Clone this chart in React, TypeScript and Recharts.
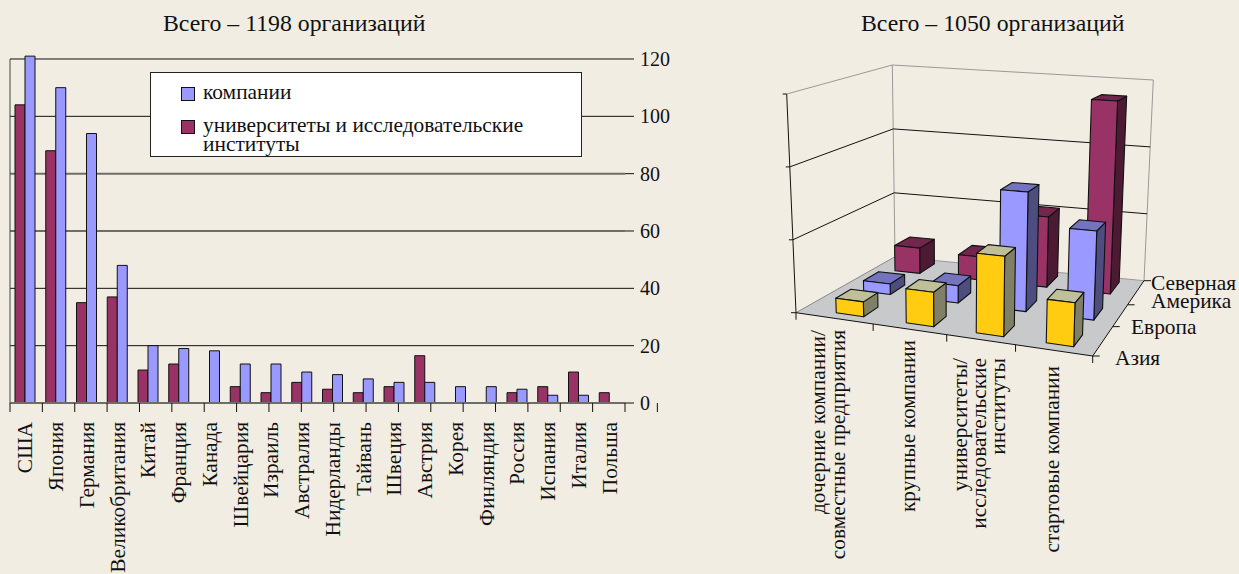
import React from "react";
import {
  Bar,
  BarChart,
  CartesianGrid,
  Legend,
  ReferenceLine,
  XAxis,
  YAxis,
} from "recharts";

// left chart
const countries = [
  "США", "Япония", "Германия", "Великобритания", "Китай", "Франция", "Канада",
  "Швейцария", "Израиль", "Австралия", "Нидерланды", "Тайвань", "Швеция", "Австрия",
  "Корея", "Финляндия", "Россия", "Испания", "Италия", "Польша",
];
const universities = [104, 88, 35, 37, 11.5, 13.6, null, 5.7, 3.6, 7.2, 4.8, 3.6, 5.7, 16.5, null, null, 3.6, 5.7, 10.8, 3.6];
const companies = [121, 110, 94, 48, 20, 19, 18.2, 13.6, 13.6, 10.8, 9.9, 8.4, 7.2, 7.2, 5.7, 5.7, 4.8, 2.7, 2.7, null];
const leftTicks = [0, 20, 40, 60, 80, 100, 120];
const bandEdges = [0, 1, 2, 3, 4, 5, 6, 7, 8, 9, 10, 11, 12, 13, 14, 15, 16, 17, 18, 19, 20];

// right chart
const orgTypes = ["дочерние компании/совместные предприятия", "крупные компании", "университеты/исследовательские институты", "стартовые компании"];
const asia = [20, 45, 102, 54];
const europe = [15, 24, 162, 118];
const northAmerica = [38, 34, 102, 276];

const leftData = countries.map((name, i) => ({ name, universities: universities[i], companies: companies[i] }));
const rightData = orgTypes.map((name, i) => ({ name, asia: asia[i], europe: europe[i], northAmerica: northAmerica[i] }));

const BG = "#f1ede3";
const RED = "#993366";
const BLUE = "#9999ff";
const SERIF = "'Liberation Serif', serif";
const FONT = 21.4;

const CountryTick = (props: any) => {
  const { x, payload } = props;
  const top = 422;
  return (
    <text
      x={x}
      y={top}
      transform={`rotate(-90 ${x} ${top})`}
      textAnchor="end"
      dominantBaseline="central"
      fontFamily={SERIF}
      fontSize={FONT}
      fill="#111"
    >
      {payload.value}
    </text>
  );
};

const LegendBox = () => (
  <div style={{ position: "relative", width: 432, height: 85, background: "#fff", border: "1px solid #222", boxSizing: "border-box", fontFamily: SERIF, fontSize: FONT, color: "#111" }}>
    <div style={{ position: "absolute", left: 30, top: 14, width: 12, height: 12, background: BLUE, border: "1px solid #111" }} />
    <div style={{ position: "absolute", left: 52, top: 7 }}>компании</div>
    <div style={{ position: "absolute", left: 30, top: 47, width: 12, height: 12, background: RED, border: "1px solid #111" }} />
    <div style={{ position: "absolute", left: 52, top: 43, lineHeight: "19px", whiteSpace: "nowrap" }}>
      университеты и исследовательские
      <br />
      институты
    </div>
  </div>
);

// 3D box of the right chart, px inside its 469x524 svg
type Pt = [number, number];
const W3 = 469;
const H3 = 524;

const quadMap = (p0: Pt, p1: Pt, p2: Pt, p3: Pt) => (u: number, v: number): Pt => {
  const at = (k: 0 | 1) =>
    p0[k] * (1 - u) * (1 - v) + p1[k] * u * (1 - v) + p2[k] * u * v + p3[k] * (1 - u) * v;
  return [at(0), at(1)];
};

const floorMap = quadMap([26, 262.7], [322.7, 306], [374, 230.7], [125, 206.7]);
const ceilMap = quadMap([16.7, 44], [331, 56], [383.3, 30], [122.3, 15]);

const project = (u: number, d: number, h: number): Pt => {
  const a = floorMap(u, d);
  const b = ceilMap(u, d);
  return [a[0] + (b[0] - a[0]) * h, a[1] + (b[1] - a[1]) * h];
};

const pts = (list: Pt[]) => list.map((p) => `${p[0]},${p[1]}`).join(" ");

const Seg = ({ a, b, stroke = "#111", w = 1 }: { a: Pt; b: Pt; stroke?: string; w?: number }) => (
  <line x1={a[0]} y1={a[1]} x2={b[0]} y2={b[1]} stroke={stroke} strokeWidth={w} />
);

// where each row sits on the floor: front edge, and how the band maps across it
const rowFront = [0.08, 0.44, 0.79];
const rowDepth = 0.16;
const rowShift = [0.037, 0.012, 0.005];
const rowSpread = [0.956, 0.984, 0.98];

const Prism = (props: any) => {
  const { x, width, height, row, front, top, side } = props;
  if (!height) return null;
  const uL = rowShift[row] + (rowSpread[row] * x) / W3;
  const uR = rowShift[row] + (rowSpread[row] * (x + width)) / W3;
  const h = height / H3;
  const dF = rowFront[row];
  const dB = dF + rowDepth;
  return (
    <g stroke="#111" strokeWidth={1.1} strokeLinejoin="round">
      <polygon points={pts([project(uR, dF, 0), project(uR, dB, 0), project(uR, dB, h), project(uR, dF, h)])} fill={side} />
      <polygon points={pts([project(uL, dF, h), project(uR, dF, h), project(uR, dB, h), project(uL, dB, h)])} fill={top} />
      <polygon points={pts([project(uL, dF, 0), project(uR, dF, 0), project(uR, dF, h), project(uL, dF, h)])} fill={front} />
    </g>
  );
};

const GRAY = "#999";
const levels = [1 / 3, 2 / 3];
const uTicks = [0, 0.26, 0.508, 0.74, 1];
const dTicks = [0, 0.39, 0.68, 1];

const Box3D = () => (
  <g>
    <polygon points={pts([project(0, 0, 0), project(1, 0, 0), project(1, 1, 0), project(0, 1, 0)])} fill="#c8c9cb" />
    <Seg a={project(0, 0, 1)} b={project(0, 1, 1)} stroke={GRAY} />
    <Seg a={project(0, 1, 1)} b={project(1, 1, 1)} stroke={GRAY} />
    <Seg a={project(0, 1, 1)} b={project(0, 1, 0)} stroke={GRAY} />
    <Seg a={project(1, 1, 1)} b={project(1, 1, 0)} stroke={GRAY} />
    <Seg a={project(0, 0, 0)} b={project(0, 1, 0)} stroke="#888" />
    <Seg a={project(0, 1, 0)} b={project(1, 1, 0)} stroke={GRAY} />
    {levels.map((l) => (
      <g key={l}>
        <Seg a={project(0, 0, l)} b={project(0, 1, l)} />
        <Seg a={project(0, 1, l)} b={project(1, 1, l)} />
        <Seg a={project(0, 0, l)} b={[project(0, 0, l)[0] - 4, project(0, 0, l)[1]]} />
      </g>
    ))}
    <Seg a={project(0, 0, 1)} b={[project(0, 0, 1)[0] - 4, project(0, 0, 1)[1]]} />
    <Seg a={project(0, 0, 0)} b={project(0, 0, 1)} />
    <Seg a={project(0, 0, 0)} b={project(1, 0, 0)} />
    <Seg a={project(1, 0, 0)} b={project(1, 1, 0)} />
    {uTicks.map((u) => (
      <Seg key={u} a={project(u, 0, 0)} b={[project(u, 0, 0)[0], project(u, 0, 0)[1] + 7]} />
    ))}
    {dTicks.map((d) => (
      <Seg key={d} a={project(1, d, 0)} b={[project(1, d, 0)[0] + 7, project(1, d, 0)[1]]} />
    ))}
    <Seg a={project(0, 0, 0)} b={[project(0, 0, 0)[0] - 5, project(0, 0, 0)[1]]} />
  </g>
);

// rotated axis text: [centre x, top y, text]
const typeLabels: [number, number, string][] = [
  [48, 280, "дочерние компании/"],
  [68, 280, "совместные предприятия"],
  [138, 290, "крупные компании"],
  [190, 308, "университеты/"],
  [209, 308, "исследовательские"],
  [228, 308, "институты"],
  [282, 316, "стартовые компании"],
];
const regionLabels: [number, number, string][] = [
  [345, 308, "Азия"],
  [361, 277, "Европа"],
  [381, 251, "Америка"],
  [381, 233, "Северная"],
];

const AxisText3D = () => (
  <g fontFamily={SERIF} fontSize={FONT} fill="#111">
    {typeLabels.map(([x, y, t]) => (
      <text key={t} x={x} y={y} transform={`rotate(-90 ${x} ${y})`} textAnchor="end" dominantBaseline="central">
        {t}
      </text>
    ))}
    {regionLabels.map(([x, y, t]) => (
      <text key={t} x={x} y={y} dominantBaseline="central">
        {t}
      </text>
    ))}
  </g>
);

const Title = ({ left, text }: { left: number; text: string }) => (
  <div style={{ position: "absolute", left, top: 10, fontFamily: SERIF, fontSize: 23.8, color: "#111", whiteSpace: "nowrap" }}>{text}</div>
);

export default function App() {
  return (
    <div style={{ position: "fixed", left: 0, top: 0, width: 1239, height: 574, background: BG, overflow: "hidden" }}>
      <Title left={163} text="Всего – 1198 организаций" />
      <Title left={861} text="Всего – 1050 организаций" />

      <div style={{ position: "absolute", left: 0, top: 0 }}>
        <BarChart
          width={680}
          height={574}
          data={leftData}
          barSize={10}
          barGap={0}
          margin={{ top: 56.13, right: 0, left: 10, bottom: 0 }}
        >
          <CartesianGrid vertical={false} horizontalValues={[20, 40, 100, 120]} stroke="#111" />
          <CartesianGrid vertical={false} horizontalValues={[60, 80]} stroke="#6e6e68" strokeWidth={2} />
          <XAxis
            type="number"
            domain={[0, 20]}
            ticks={bandEdges}
            interval={0}
            tick={() => <g />}
            tickSize={9}
            height={1}
            axisLine={{ stroke: "#6e6e68", strokeWidth: 2 }}
            tickLine={{ stroke: "#111" }}
          />
          <XAxis xAxisId="cat" dataKey="name" interval={0} axisLine={false} tickLine={false} tick={CountryTick} height={170} />
          <YAxis
            orientation="right"
            domain={[0, 121]}
            ticks={leftTicks}
            interval={0}
            width={55}
            axisLine={false}
            tickSize={9}
            tickMargin={6}
            tickLine={{ stroke: "#111" }}
            tick={{ fontFamily: SERIF, fontSize: 20, fill: "#111" }}
          />
          <ReferenceLine segment={[{ x: 0, y: 0 }, { x: 0, y: 120 }]} stroke="#444" />
          <ReferenceLine segment={[{ x: 20, y: 0 }, { x: 20, y: 120 }]} stroke="#111" />
          <Legend
            layout="vertical"
            align="center"
            verticalAlign="middle"
            content={LegendBox}
            wrapperStyle={{ left: 150, top: 72, width: 432, height: 85 }}
          />
          <Bar xAxisId="cat" dataKey="universities" fill={RED} stroke="#111" isAnimationActive={false} />
          <Bar xAxisId="cat" dataKey="companies" fill={BLUE} stroke="#111" isAnimationActive={false} />
        </BarChart>
      </div>

      <div style={{ position: "absolute", left: 770, top: 50 }}>
        <BarChart width={W3} height={H3} data={rightData} barSize={46} margin={{ top: 0, right: 0, left: 0, bottom: 0 }}>
          <Box3D />
          <XAxis xAxisId="back" dataKey="name" hide />
          <XAxis xAxisId="mid" dataKey="name" hide />
          <XAxis xAxisId="front" dataKey="name" hide />
          <YAxis domain={[0, 300]} hide />
          <Bar
            xAxisId="back"
            dataKey="northAmerica"
            isAnimationActive={false}
            shape={(p: any) => <Prism {...p} row={2} front={RED} top="#73264d" side="#4d1a33" />}
          />
          <Bar
            xAxisId="mid"
            dataKey="europe"
            isAnimationActive={false}
            shape={(p: any) => <Prism {...p} row={1} front={BLUE} top="#7373bf" side="#4d4d80" />}
          />
          <Bar
            xAxisId="front"
            dataKey="asia"
            isAnimationActive={false}
            shape={(p: any) => <Prism {...p} row={0} front="#ffcc11" top="#bfbf99" side="#808066" />}
          />
          <AxisText3D />
        </BarChart>
      </div>
    </div>
  );
}
